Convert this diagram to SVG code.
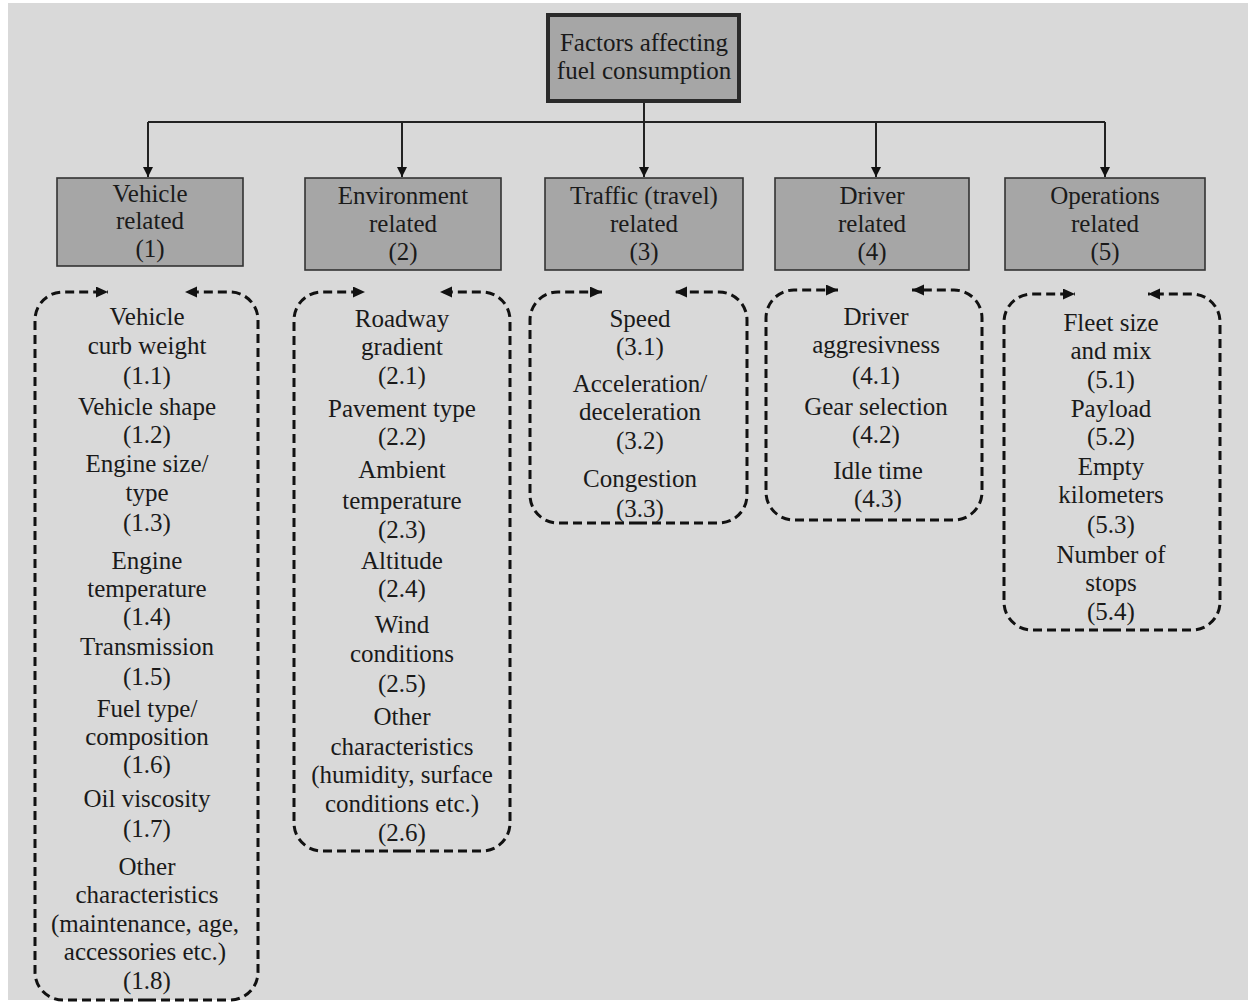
<svg xmlns="http://www.w3.org/2000/svg" width="1248" height="1005" viewBox="0 0 1248 1005">
<style>
text{font-size:25px;fill:#1a1a1a;text-anchor:middle}
.cat{fill:#a6a6a6;stroke:#333;stroke-width:1.6}
.top{fill:#a6a6a6;stroke:#2a2a2a;stroke-width:4}
.con{fill:none;stroke:#222;stroke-width:2}
.dash{fill:none;stroke:#111;stroke-width:3;stroke-dasharray:9 5}
</style>
<defs>
<marker id="ah" markerUnits="userSpaceOnUse" markerWidth="12" markerHeight="12" refX="10" refY="5" orient="auto"><path d="M0,0 L10,5 L0,10 Z" fill="#111"/></marker>
<marker id="da" markerUnits="userSpaceOnUse" markerWidth="14" markerHeight="12" refX="12" refY="5.5" orient="auto"><path d="M0,0 L12,5.5 L0,11 Z" fill="#111"/></marker>
</defs>
<rect x="8" y="3" width="1240" height="997" fill="#d9d9d9"/>
<g id="connectors">
<path class="con" d="M644,103 V122 M148,122 H1105"/>
<path class="con" d="M148,122 V177" marker-end="url(#ah)"/>
<path class="con" d="M402,122 V177" marker-end="url(#ah)"/>
<path class="con" d="M644,122 V177" marker-end="url(#ah)"/>
<path class="con" d="M876,122 V177" marker-end="url(#ah)"/>
<path class="con" d="M1105,122 V177" marker-end="url(#ah)"/>
</g>
<g font-family="Liberation Serif, Times New Roman, Times, DejaVu Serif, serif">
<g id="root">
<rect class="top" x="548" y="15" width="191" height="86"/>
<text x="644" y="51">Factors affecting</text>
<text x="644" y="79">fuel consumption</text>
</g>
<g id="cat1">
<rect class="cat" x="57" y="178" width="186" height="88"/>
<text x="150" y="202">Vehicle</text><text x="150" y="229">related</text><text x="150" y="257">(1)</text>
</g>
<g id="cat2">
<rect class="cat" x="305" y="178" width="196" height="92"/>
<text x="403" y="204">Environment</text><text x="403" y="232">related</text><text x="403" y="260">(2)</text>
</g>
<g id="cat3">
<rect class="cat" x="545" y="178" width="198" height="92"/>
<text x="644" y="204">Traffic (travel)</text><text x="644" y="232">related</text><text x="644" y="260">(3)</text>
</g>
<g id="cat4">
<rect class="cat" x="775" y="178" width="194" height="92"/>
<text x="872" y="204">Driver</text><text x="872" y="232">related</text><text x="872" y="260">(4)</text>
</g>
<g id="cat5">
<rect class="cat" x="1005" y="178" width="200" height="92"/>
<text x="1105" y="204">Operations</text><text x="1105" y="232">related</text><text x="1105" y="260">(5)</text>
</g>
<g id="list1">
<path class="dash" d="M147,1000 H63 A28,28 0 0 1 35,972 V320 A28,28 0 0 1 63,292 H108" marker-end="url(#da)"/>
<path class="dash" d="M147,1000 H230 A28,28 0 0 0 258,972 V320 A28,28 0 0 0 230,292 H185" marker-end="url(#da)"/>
<text x="147" y="325">Vehicle</text>
<text x="147" y="354">curb weight</text>
<text x="147" y="384">(1.1)</text>
<text x="147" y="415">Vehicle shape</text>
<text x="147" y="443">(1.2)</text>
<text x="147" y="472">Engine size/</text>
<text x="147" y="501">type</text>
<text x="147" y="531">(1.3)</text>
<text x="147" y="569">Engine</text>
<text x="147" y="597">temperature</text>
<text x="147" y="625">(1.4)</text>
<text x="147" y="655">Transmission</text>
<text x="147" y="685">(1.5)</text>
<text x="147" y="717">Fuel type/</text>
<text x="147" y="745">composition</text>
<text x="147" y="773">(1.6)</text>
<text x="147" y="807">Oil viscosity</text>
<text x="147" y="837">(1.7)</text>
<text x="147" y="875">Other</text>
<text x="147" y="903">characteristics</text>
<text x="145" y="932">(maintenance, age,</text>
<text x="145" y="960">accessories etc.)</text>
<text x="147" y="989">(1.8)</text>
</g>
<g id="list2">
<path class="dash" d="M402,851 H322 A28,28 0 0 1 294,823 V320 A28,28 0 0 1 322,292 H365" marker-end="url(#da)"/>
<path class="dash" d="M402,851 H482 A28,28 0 0 0 510,823 V320 A28,28 0 0 0 482,292 H440" marker-end="url(#da)"/>
<text x="402" y="327">Roadway</text>
<text x="402" y="355">gradient</text>
<text x="402" y="384">(2.1)</text>
<text x="402" y="417">Pavement type</text>
<text x="402" y="445">(2.2)</text>
<text x="402" y="478">Ambient</text>
<text x="402" y="509">temperature</text>
<text x="402" y="538">(2.3)</text>
<text x="402" y="569">Altitude</text>
<text x="402" y="597">(2.4)</text>
<text x="402" y="633">Wind</text>
<text x="402" y="662">conditions</text>
<text x="402" y="692">(2.5)</text>
<text x="402" y="725">Other</text>
<text x="402" y="755">characteristics</text>
<text x="402" y="783">(humidity, surface</text>
<text x="402" y="812">conditions etc.)</text>
<text x="402" y="841">(2.6)</text>
</g>
<g id="list3">
<path class="dash" d="M638,523 H558 A28,28 0 0 1 530,495 V320 A28,28 0 0 1 558,292 H602" marker-end="url(#da)"/>
<path class="dash" d="M638,523 H719 A28,28 0 0 0 747,495 V320 A28,28 0 0 0 719,292 H675" marker-end="url(#da)"/>
<text x="640" y="327">Speed</text>
<text x="640" y="355">(3.1)</text>
<text x="640" y="392">Acceleration/</text>
<text x="640" y="420">deceleration</text>
<text x="640" y="449">(3.2)</text>
<text x="640" y="487">Congestion</text>
<text x="640" y="517">(3.3)</text>
</g>
<g id="list4">
<path class="dash" d="M874,520 H794 A28,28 0 0 1 766,492 V318 A28,28 0 0 1 794,290 H838" marker-end="url(#da)"/>
<path class="dash" d="M874,520 H954 A28,28 0 0 0 982,492 V318 A28,28 0 0 0 954,290 H912" marker-end="url(#da)"/>
<text x="876" y="325">Driver</text>
<text x="876" y="353">aggresivness</text>
<text x="876" y="384">(4.1)</text>
<text x="876" y="415">Gear selection</text>
<text x="876" y="443">(4.2)</text>
<text x="878" y="479">Idle time</text>
<text x="878" y="507">(4.3)</text>
</g>
<g id="list5">
<path class="dash" d="M1112,630 H1032 A28,28 0 0 1 1004,602 V322 A28,28 0 0 1 1032,294 H1075" marker-end="url(#da)"/>
<path class="dash" d="M1112,630 H1192 A28,28 0 0 0 1220,602 V322 A28,28 0 0 0 1192,294 H1148" marker-end="url(#da)"/>
<text x="1111" y="331">Fleet size</text>
<text x="1111" y="359">and mix</text>
<text x="1111" y="388">(5.1)</text>
<text x="1111" y="417">Payload</text>
<text x="1111" y="445">(5.2)</text>
<text x="1111" y="475">Empty</text>
<text x="1111" y="503">kilometers</text>
<text x="1111" y="533">(5.3)</text>
<text x="1111" y="563">Number of</text>
<text x="1111" y="591">stops</text>
<text x="1111" y="620">(5.4)</text>
</g>
</g>
</svg>
